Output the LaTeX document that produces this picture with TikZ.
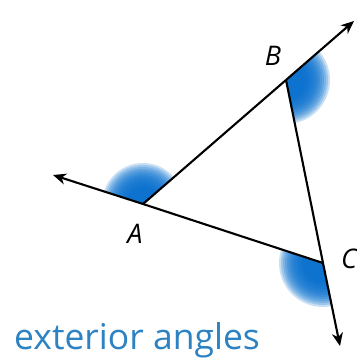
\documentclass[tikz,border=0pt]{standalone}
\usepackage{fontspec}
\setmainfont{Open Sans}
\usetikzlibrary{arrows.meta}
\definecolor{blobblue}{RGB}{5,110,205}
\definecolor{textblue}{RGB}{45,130,195}
\tikzset{
  ray/.style={line width=2.1pt, -{Stealth[length=13pt,width=11pt,inset=4pt]}},
  seg/.style={line width=2.1pt},
  lbl/.style={font=\fontsize{27}{27}\selectfont\itshape, inner sep=0pt},
}
\begin{document}
\begin{tikzpicture}[x=1pt,y=1pt]
\useasboundingbox (0,0) rectangle (356,358);
\coordinate (A) at (143,154);
\coordinate (B) at (286,278);
\coordinate (C) at (323,95);
\coordinate (Aend) at (53,183);
\coordinate (Bend) at (354,337);
\coordinate (Cend) at (340,12);
% fuzzy exterior angles
\foreach \r in {20,22,...,44}{
  \fill[blobblue, opacity=0.22] (B) -- ++(-78.6:\r) arc[start angle=-78.6, end angle=41, radius=\r] -- cycle;
  \fill[blobblue, opacity=0.22] (A) -- ++(41:\r-3) arc[start angle=41, end angle=162, radius=\r-3] -- cycle;
  \fill[blobblue, opacity=0.22] (C) -- ++(161.8:\r) arc[start angle=161.8, end angle=281.6, radius=\r] -- cycle;
}
\draw[seg] (A) -- (B);
\draw[seg] (B) -- (C);
\draw[seg] (C) -- (A);
\draw[ray] (B) -- (Bend);
\draw[ray] (A) -- (Aend);
\draw[ray] (C) -- (Cend);
\node[lbl] (lA) at (135,124) {A};
\node[lbl] (lB) at (273,302) {B};
\node[lbl] (lC) at (349,99) {C};
\node[anchor=base west, inner sep=0pt, text=textblue, font=\fontsize{35.5}{35.5}\selectfont] (cap) at (14,9) {exterior angles};
\end{tikzpicture}
\end{document}
